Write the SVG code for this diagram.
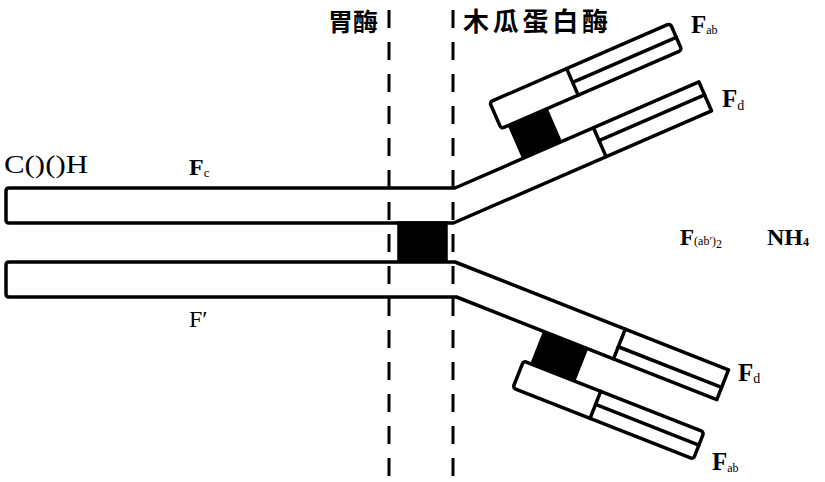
<svg xmlns="http://www.w3.org/2000/svg" width="825" height="482" viewBox="0 0 825 482">
<style>
.o{fill:none;stroke:#000;stroke-width:3.5;stroke-linejoin:round;stroke-linecap:round}
.b{fill:#000;stroke:#000;stroke-width:1.5}
.d{fill:none;stroke:#000;stroke-width:3;stroke-dasharray:18 14}
.t{font-family:"Liberation Serif","Times New Roman",serif;fill:#000}
.fb{font-weight:bold}
.cn{font-family:"Noto Sans CJK SC","Noto Sans CJK TC",sans-serif;font-weight:bold;fill:#000}
</style>
<rect width="825" height="482" fill="#fff"/>
<g id="hinge">
<rect class="b" x="398" y="222" width="49" height="40"/>
</g>
<g id="heavy-upper">
<path class="o" d="M9,188 L455,188 L698.9,81.9 L711.5,110.8 L453.5,223 L9,223 Q6,223 6,220 L6,191 Q6,188 9,188 Z"/>
<g transform="translate(455,188) rotate(-23.5)">
<line class="o" x1="151" y1="0" x2="151" y2="31.5"/>
<line class="o" x1="151" y1="14" x2="266" y2="14"/>
</g>
</g>
<g id="heavy-lower">
<path class="o" d="M9,262 L455,262 L728.5,369.8 L716.8,399.6 L456.5,297 L9,297 Q6,297 6,294 L6,265 Q6,262 9,262 Z"/>
<g transform="translate(455,262) rotate(21.5)">
<line class="o" x1="183" y1="0" x2="183" y2="32"/>
<line class="o" x1="183" y1="19" x2="294" y2="19"/>
</g>
</g>
<g id="light-upper" transform="translate(455,188) rotate(-23.5)">
<rect class="b" x="74" y="-36" width="42" height="36"/>
<rect class="o" x="66" y="-65" width="197" height="29" rx="3"/>
<line class="o" x1="150" y1="-65" x2="150" y2="-36"/>
<line class="o" x1="150" y1="-50" x2="263" y2="-50"/>
</g>
<g id="light-lower" transform="translate(455,262) rotate(21.5)">
<rect class="b" x="108" y="32" width="47" height="35"/>
<rect class="o" x="100" y="67" width="194" height="29" rx="3"/>
<line class="o" x1="183" y1="67" x2="183" y2="96"/>
<line class="o" x1="183" y1="81" x2="294" y2="81"/>
</g>
<g id="connectors">
<line class="d" x1="389" y1="10" x2="389" y2="478"/>
<line class="d" x1="453" y1="10" x2="453" y2="478"/>
</g>
<g id="labels">
<text class="cn" x="328" y="31" font-size="25">胃酶</text>
<text class="cn" x="463" y="31" font-size="26" textLength="145" lengthAdjust="spacing">木瓜蛋白酶</text>
<text class="t" x="4" y="173" font-size="26" textLength="84" lengthAdjust="spacingAndGlyphs">C()()H</text>
<text class="t" x="189" y="175" font-size="24"><tspan class="fb">F</tspan><tspan font-size="13" dy="2">c</tspan></text>
<text class="t" x="189" y="327" font-size="24">F′</text>
<text class="t" x="691" y="33" font-size="25"><tspan class="fb">F</tspan><tspan font-size="12" dy="1">ab</tspan></text>
<text class="t" x="722" y="107" font-size="25"><tspan class="fb">F</tspan><tspan font-size="14" dy="3">d</tspan></text>
<text class="t" x="680" y="245" font-size="23"><tspan class="fb">F</tspan><tspan font-size="12" dy="0">(ab′)</tspan><tspan font-size="12" dy="3">2</tspan></text>
<text class="t fb" x="767" y="245" font-size="24">NH<tspan font-size="12" dy="1">4</tspan></text>
<text class="t" x="738" y="381" font-size="25"><tspan class="fb">F</tspan><tspan font-size="14" dy="2">d</tspan></text>
<text class="t" x="712" y="470" font-size="25"><tspan class="fb">F</tspan><tspan font-size="12" dy="2">ab</tspan></text>
</g>
</svg>
